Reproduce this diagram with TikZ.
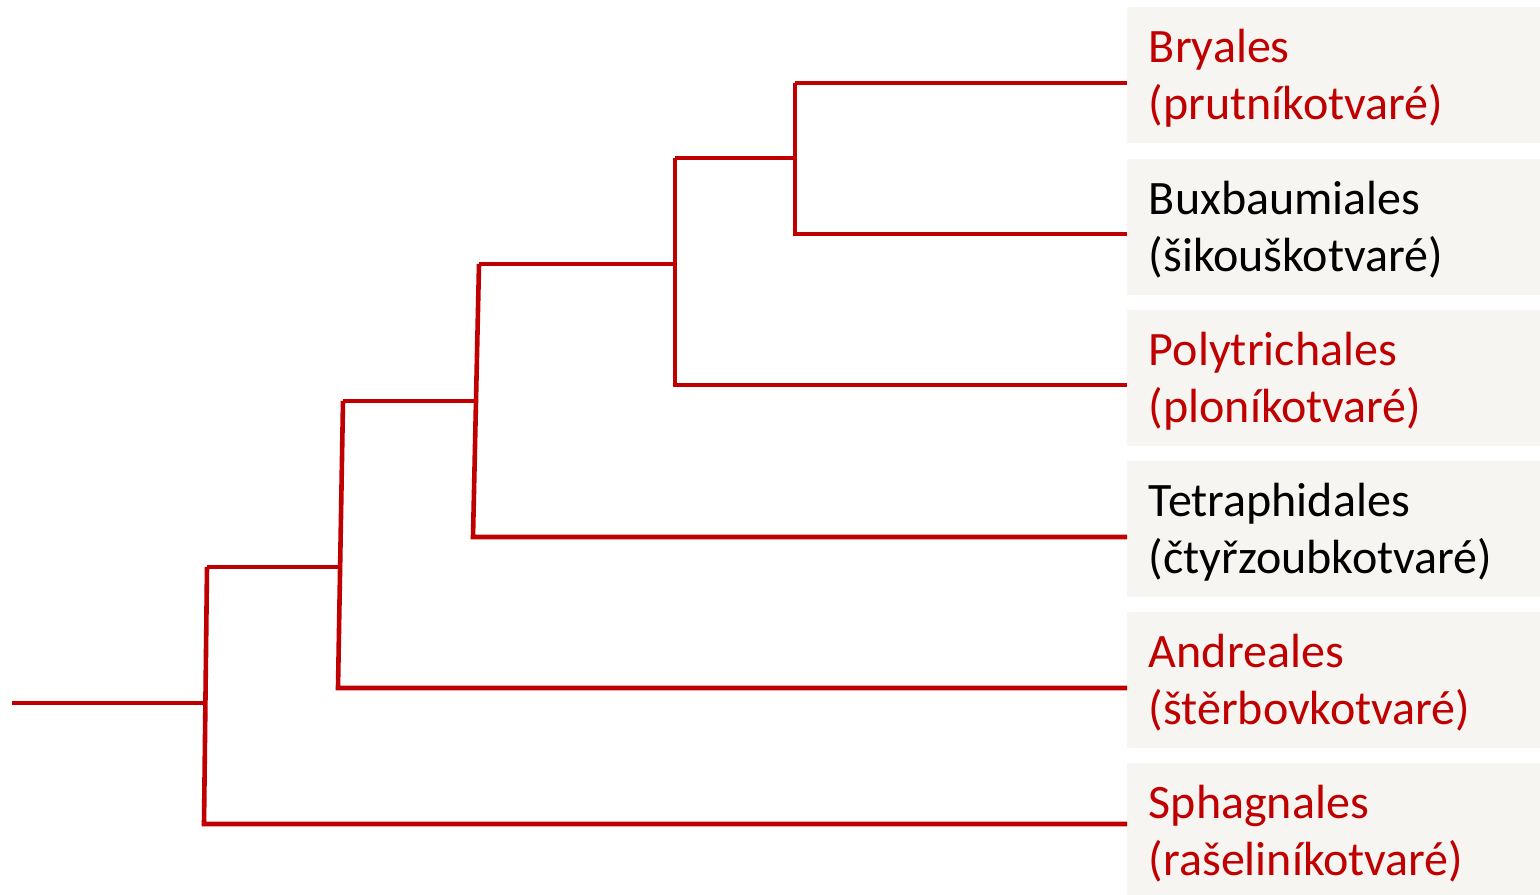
\documentclass[tikz,border=0pt]{standalone}
\usepackage{fontspec}
\setmainfont{Carlito}
\definecolor{treered}{HTML}{C00000}
\definecolor{boxgray}{HTML}{F6F5F2}
\newcommand{\taxtext}[2]{\raisebox{-2.2pt}[\height][\depth]{\begin{tabular}{@{}l@{}}#1\\#2\end{tabular}}}
\begin{document}
\begin{tikzpicture}[x=0.5pt,y=-0.5pt,
    branch/.style={treered,line width=2.3pt},
    taxon/.style={fill=boxgray,anchor=north west,minimum width=206.5pt,minimum height=68pt,
      text width=185pt,inner xsep=10.5pt,inner ysep=0pt,align=left,
      font=\fontsize{24}{28.5}\selectfont}]
  \useasboundingbox (0,0) rectangle (1540,894);
  % taxa
  \node[taxon,text=treered] (bry) at (1127,7)   {\taxtext{Bryales}{(prutníkotvaré)}};
  \node[taxon,text=black]   (bux) at (1127,159) {\taxtext{Buxbaumiales}{(šikouškotvaré)}};
  \node[taxon,text=treered] (pol) at (1127,310) {\taxtext{Polytrichales}{(ploníkotvaré)}};
  \node[taxon,text=black]   (tet) at (1127,461) {\taxtext{Tetraphidales}{(čtyřzoubkotvaré)}};
  \node[taxon,text=treered] (andr) at (1127,612) {\taxtext{Andreales}{(štěrbovkotvaré)}};
  \node[taxon,text=treered] (sph) at (1127,763) {\taxtext{Sphagnales}{(rašeliníkotvaré)}};
  % branching points
  \coordinate (root) at (12,703);
  \coordinate (r)  at (205,703);
  \coordinate (rT) at (207,567);
  \coordinate (rB) at (204,824);
  \coordinate (a)  at (340,567);
  \coordinate (aT) at (343,401);
  \coordinate (aB) at (338,688);
  \coordinate (b)  at (476,401);
  \coordinate (bT) at (479,264);
  \coordinate (bB) at (473,537);
  \coordinate (c)  at (675,264);
  \coordinate (cT) at (675,158);
  \coordinate (cB) at (675,385);
  \coordinate (d)  at (795,158);
  \coordinate (dT) at (795,83);
  \coordinate (dB) at (795,234);
  % tree
  \draw[branch] (root) -- (r);
  \draw[branch] (rT) -- (rB) -- (rB -| sph.west);
  \draw[branch] (rT) -- (a);
  \draw[branch] (aT) -- (aB) -- (aB -| andr.west);
  \draw[branch] (aT) -- (b);
  \draw[branch] (bT) -- (bB) -- (bB -| tet.west);
  \draw[branch] (bT) -- (c);
  \draw[branch] (cT) -- (cB) -- (cB -| pol.west);
  \draw[branch] (cT) -- (d);
  \draw[branch] (dT) -- (dB) -- (dB -| bux.west);
  \draw[branch] (dT) -- (dT -| bry.west);
\end{tikzpicture}
\end{document}
